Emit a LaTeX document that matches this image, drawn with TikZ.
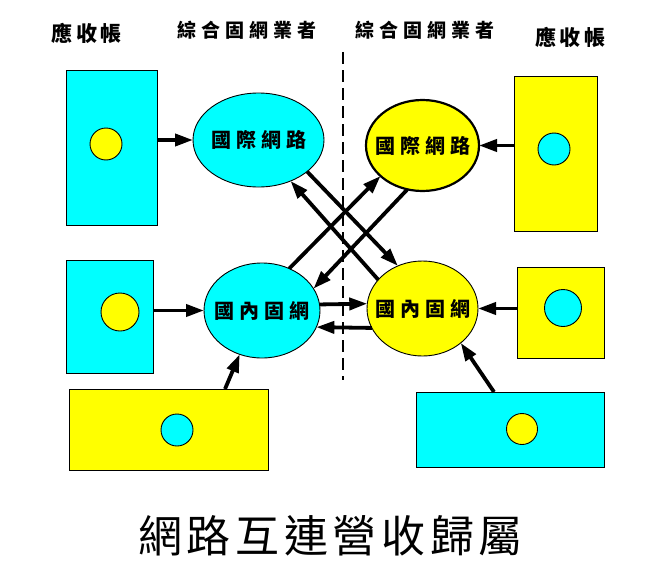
\documentclass[tikz,border=0pt]{standalone}
\usepackage{fontspec}
\newfontfamily\cjk{Noto Sans CJK TC}
\usetikzlibrary{shapes.geometric,arrows.meta,calc}
\definecolor{cy}{RGB}{0,255,255}
\definecolor{ye}{RGB}{255,255,0}
\begin{document}
\begin{tikzpicture}[x=1pt,y=-1pt,
  box/.style={draw=black,line width=0.9pt,inner sep=0pt,outer sep=0pt,rectangle},
  cybox/.style={box,fill=cy},
  yebox/.style={box,fill=ye},
  dot/.style={draw=black,line width=0.9pt,circle,inner sep=0pt,outer sep=0pt},
  cydot/.style={dot,fill=cy},
  yedot/.style={dot,fill=ye},
  ell/.style={draw=black,line width=0.9pt,ellipse,inner sep=0pt,outer sep=0pt},
  arr/.style={line width=3.8pt,-{Triangle[length=18pt,width=12pt]}},
  etext/.style={font=\cjk\bfseries\fontsize{20pt}{20pt}\selectfont,inner sep=0pt},
  hdrb/.style={font=\cjk\bfseries\fontsize{21pt}{21pt}\selectfont,inner sep=0pt},
  hdr/.style={font=\cjk\bfseries\fontsize{19pt}{19pt}\selectfont,inner sep=0pt},
  ttl/.style={font=\cjk\fontsize{44pt}{44pt}\selectfont,inner sep=0pt},
  divider/.style={line width=2pt,dash pattern=on 12pt off 6pt}
]
\fill[white] (0,0) rectangle (655,578);
\useasboundingbox (0,0) rectangle (655,578);

% headers
\node[hdrb] (h1) at (86.7,33) {應\kern3.5pt 收\kern3.5pt 帳};
\node[hdr] (h2) at (247,30) {綜\kern5pt 合\kern5pt 固\kern5pt 網\kern5pt 業\kern5pt 者};
\node[hdr] (h3) at (425,30) {綜\kern5pt 合\kern5pt 固\kern5pt 網\kern5pt 業\kern5pt 者};
\node[hdrb] (h4) at (570,37) {應\kern3.5pt 收\kern3.5pt 帳};

% divider
\coordinate (dtop) at (343,52);
\coordinate (dbot) at (343,380);
\draw[divider] (dtop) -- (dbot);

% left boxes
\node[cybox,minimum width=91pt,minimum height=155pt] (A1) at (111.5,147.5) {};
\node[yedot,minimum size=32pt] (a1) at (106,144) {};
\node[cybox,minimum width=87pt,minimum height=113pt] (A2) at (109.5,316.5) {};
\node[yedot,minimum size=38pt] (a2) at (120,312) {};
\node[yebox,minimum width=199pt,minimum height=81pt] (A3) at (168.5,429.5) {};
\node[cydot,minimum size=32pt] (a3) at (177,430) {};

% right boxes
\node[yebox,minimum width=83pt,minimum height=155pt] (B1) at (555.5,153.5) {};
\node[cydot,minimum size=32pt] (b1) at (554,149) {};
\node[yebox,minimum width=87pt,minimum height=91pt] (B2) at (560.5,312.5) {};
\node[cydot,minimum size=37pt] (b2) at (563,308) {};
\node[cybox,minimum width=188pt,minimum height=75pt] (B3) at (510,429.5) {};
\node[yedot,minimum size=31pt] (b3) at (522,429) {};

% ellipses
\node[ell,fill=cy,minimum width=131pt,minimum height=94pt] (E1) at (258.5,140) {};
\node[ell,fill=ye,line width=2.2pt,minimum width=113pt,minimum height=91pt] (E2) at (422.5,145.5) {};
\node[ell,fill=cy,minimum width=116pt,minimum height=95pt] (E3) at (262,310.5) {};
\node[ell,fill=ye,minimum width=111pt,minimum height=95pt] (E4) at (422.5,308.5) {};

\node[etext] (t1) at (E1) {國\kern5pt 際\kern5pt 網\kern5pt 路};
\node[etext] (t2) at (E2) {國\kern5pt 際\kern5pt 網\kern5pt 路};
\node[etext] (t3) at (E3) {國\kern5pt 內\kern5pt 固\kern5pt 網};
\node[etext] (t4) at (E4) {國\kern5pt 內\kern5pt 固\kern5pt 網};

% arrows from boxes
\draw[arr] (A1.east |- E1.west) -- (E1.west);
\draw[arr] (B1.west |- E2.east) -- (E2.east);
\draw[arr] (A2.east |- E3.west) -- (E3.west);
\draw[arr] (B2.west |- E4.east) -- (E4.east);
\draw[arr] ($(A3.north)+(56.5,0)$) -- (E3.243.7);
\draw[arr] ($(B3.north)+(-16,0)$) -- (E4.318);

% crossing arrows
\draw[arr] (E1.327.9) -- (E4.120.6);
\draw[arr] (E4.147.4) -- (E1.308.6);
\draw[arr] (E3.57.6) -- (E2.216.8);
\draw[arr] (E2.251.9) -- (E3.23.1);
\draw[arr] (E3.6.4) -- (E4.175.4);
\draw[arr] (E4.201.3) -- (E3.343.3);

% title
\node[ttl] (title) at (330.5,536) {網\kern4.7pt 路\kern4.7pt 互\kern4.7pt 連\kern4.7pt 營\kern4.7pt 收\kern4.7pt 歸\kern4.7pt 屬};
\end{tikzpicture}
\end{document}
